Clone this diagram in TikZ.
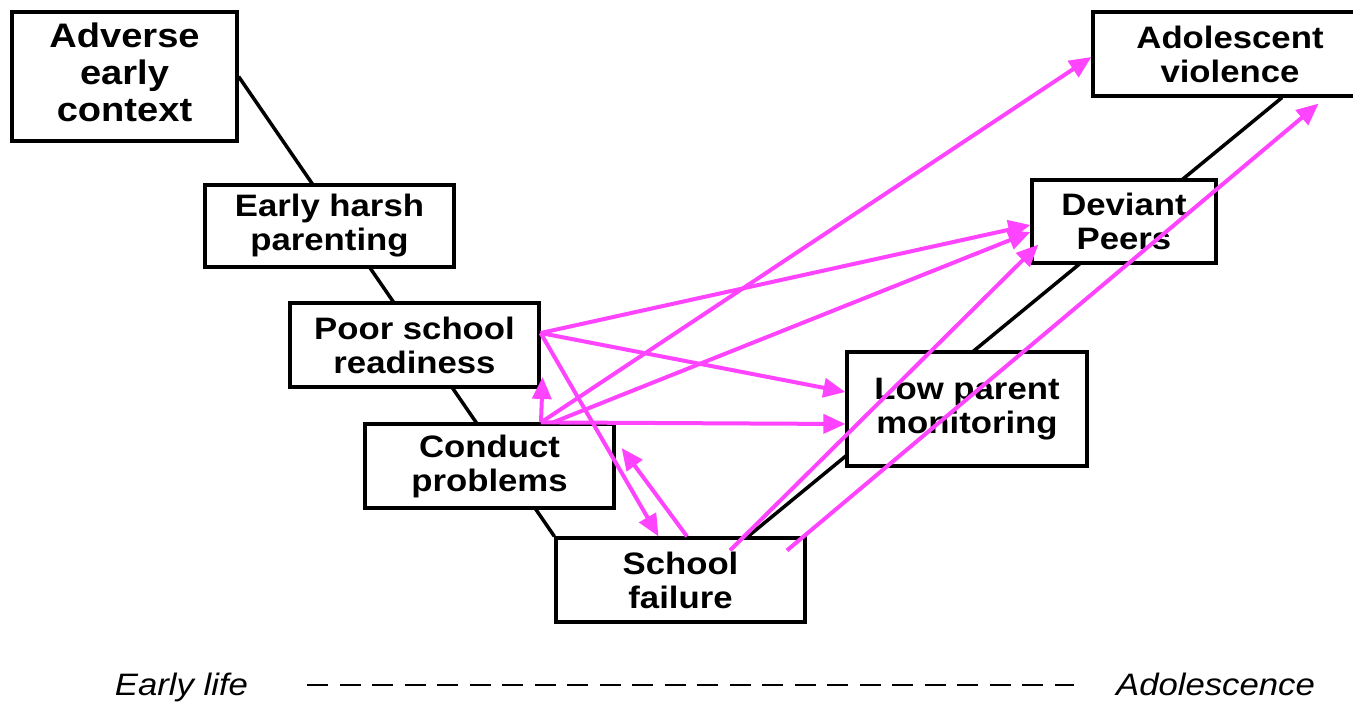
\documentclass[tikz,border=0pt]{standalone}
\usepackage{fontspec}
\setmainfont{Liberation Sans}[FakeStretch=1.12]
\usetikzlibrary{arrows.meta,backgrounds}
\definecolor{pathpink}{RGB}{255,68,255}

\begin{document}
\begin{tikzpicture}[x=1pt,y=-1pt,
  stage/.style={draw=black, line width=3.2pt, fill=white, inner sep=0pt, align=center,
    font=\bfseries\fontsize{31}{34}\selectfont},
  spine/.style={draw=black, line width=3.5pt},
  link/.style={draw=pathpink, line width=4pt, -{Triangle[length=22pt,width=19pt]}},
  era/.style={font=\itshape\fontsize{31}{34}\selectfont, inner sep=0pt, anchor=base},
  timeline/.style={draw=black, line width=2.8pt, dash pattern=on 21pt off 11.5pt}]
\useasboundingbox (0,0) rectangle (1353,706);

% developmental stages
\node[stage, minimum width=225pt, minimum height=129pt,
      font=\bfseries\fontsize{34}{37}\selectfont, text depth=8pt]
      (adv) at (124.5,76.5) {Adverse\\early\\context};
\node[stage, minimum width=249pt, minimum height=82pt] (ehp) at (329.5,226) {Early harsh\\parenting};
\node[stage, minimum width=249pt, minimum height=84pt] (psr) at (414.5,345) {Poor school\\readiness};
\node[stage, minimum width=249pt, minimum height=84pt] (cp) at (489.5,466) {Conduct\\problems};
\node[stage, minimum width=249pt, minimum height=84pt] (sf) at (680.5,580) {School\\failure};
\node[stage, minimum width=240pt, minimum height=114pt] (lpm) at (967,409) {Low parent\\monitoring};
\node[stage, minimum width=184pt, minimum height=83pt] (dp) at (1124,221.5) {Deviant\\Peers};
\node[stage, minimum width=274pt, minimum height=84pt] (av) at (1230,54) {Adolescent\\violence};

% the V-shaped developmental path behind the stages
\begin{scope}[on background layer]
  \draw[spine] (adv.east) -- (sf.north west);
  \draw[spine] ([xshift=52pt]av.south) -- ([xshift=67.5pt]sf.north);
\end{scope}

% cascade effects
\draw[link] ([yshift=12pt]psr.east) -- ([yshift=-3.5pt]dp.west);
\draw[link] ([yshift=12pt]psr.east) -- ([yshift=17pt]lpm.west);
\draw[link] ([yshift=12pt]psr.east) -- ([xshift=-22pt]sf.north);
\draw[link] ([xshift=51.5pt]cp.north) -- ([xshift=2pt,yshift=-32pt]psr.east);
\draw[link] ([xshift=51.5pt]cp.north) -- ([yshift=-15pt]lpm.west);
\draw[link] ([xshift=63.5pt]cp.north) -- ([yshift=-10.5pt]dp.west);
\draw[link] ([xshift=51.5pt]cp.north) -- ([yshift=-3pt]av.west);
\draw[link] ([xshift=6.5pt]sf.north) -- ([xshift=6pt,yshift=18pt]cp.east);
\draw[link] ([xshift=49.5pt,yshift=-14pt]sf.north) -- ([xshift=8pt,yshift=20pt]dp.south west);
\draw[link] ([xshift=106.5pt,yshift=-14pt]sf.north) -- ([xshift=-50pt,yshift=-6pt]av.south east);

% time axis
\node[era] (early) at (181.5,695) {Early life};
\node[era] (adol) at (1215.5,695) {Adolescence};
\draw[timeline] ([xshift=59pt,yshift=10pt]early.base east) -- ([xshift=-42pt,yshift=10pt]adol.base west);
\end{tikzpicture}
\end{document}
